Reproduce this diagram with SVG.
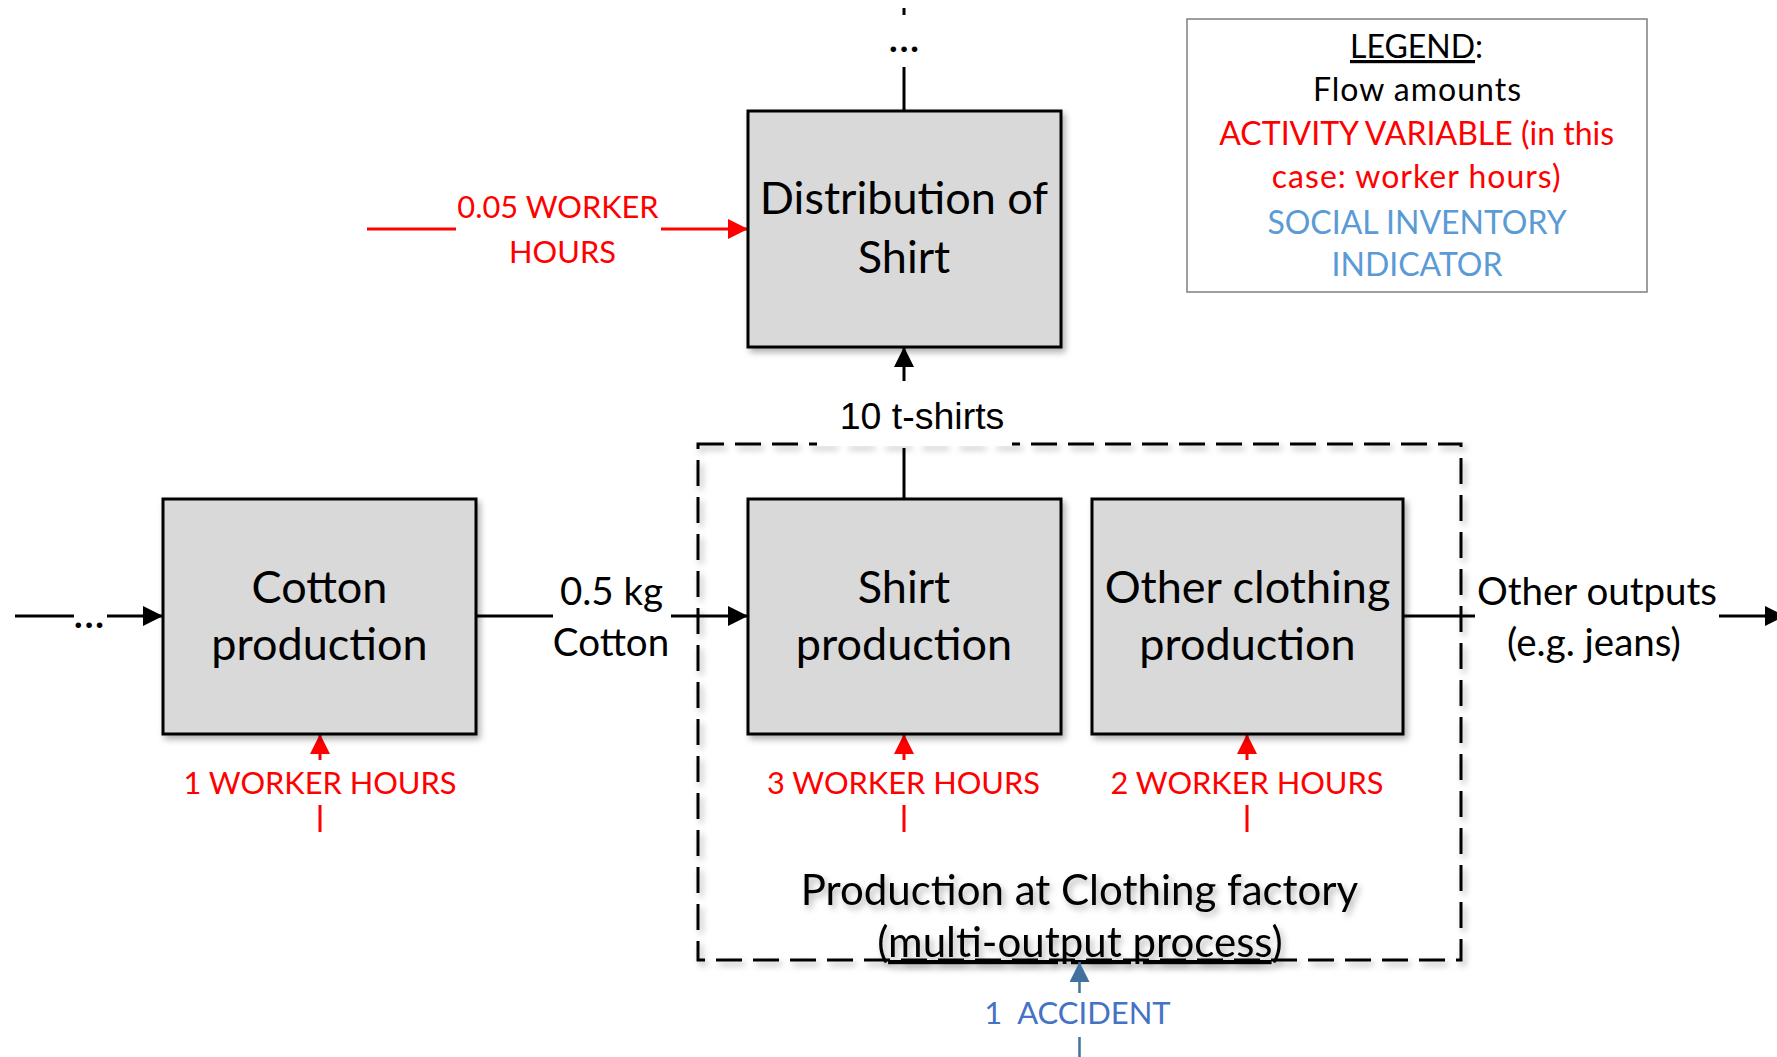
<svg xmlns="http://www.w3.org/2000/svg" width="1777" height="1057" viewBox="0 0 1777 1057">
  <style>
    .box { fill: #D9D9D9; stroke: #000; stroke-width: 3; }
    .lbl { font-family: Lato, "Open Sans", sans-serif; text-anchor: middle; }
    .boxtxt { font-size: 45px; fill: #000; }
    .flow { font-size: 38.5px; fill: #000; }
    .red { fill: #FF0000; font-size: 30.8px; }
    .legend { font-size: 32px; }
    .conn { stroke: #000; stroke-width: 3; fill: none; }
    .rconn { stroke: #FF0000; stroke-width: 3; fill: none; }
    .bconn { stroke: #41719C; stroke-width: 2.5; fill: none; }
  </style>
  <defs>
    <filter id="shadow" x="-10%" y="-10%" width="130%" height="130%">
      <feDropShadow dx="3" dy="4" stdDeviation="3" flood-color="#000" flood-opacity="0.3"/>
    </filter>
    <marker id="arrowBlack" markerUnits="userSpaceOnUse" viewBox="0 0 20 20" refX="20" refY="10" markerWidth="20" markerHeight="20" orient="auto">
      <path d="M0,0 L20,10 L0,20 z" fill="#000"/>
    </marker>
    <marker id="arrowRed" markerUnits="userSpaceOnUse" viewBox="0 0 20 20" refX="20" refY="10" markerWidth="20" markerHeight="20" orient="auto">
      <path d="M0,0 L20,10 L0,20 z" fill="#FF0000"/>
    </marker>
    <marker id="arrowBlue" markerUnits="userSpaceOnUse" viewBox="0 0 20 20" refX="20" refY="10" markerWidth="20" markerHeight="20" orient="auto">
      <path d="M0,0 L20,10 L0,20 z" fill="#41719C"/>
    </marker>
  </defs>

  <rect width="1777" height="1057" fill="#fff"/>

  <!-- multi-output process boundary -->
  <g id="clothing-factory">
    <rect x="698" y="444" width="763" height="516" fill="none" stroke="#000" stroke-width="3" stroke-dasharray="26 11" filter="url(#shadow)"/>
    <!-- label background interrupting the top edge -->
    <rect x="817" y="384" width="195" height="62" fill="#fff"/>
    <text class="lbl" font-size="42" x="1079.5" y="905" filter="url(#shadow)">Production at Clothing factory</text>
    <text class="lbl" font-size="42" x="1080" y="957" filter="url(#shadow)">(<tspan text-decoration="underline">multi-output process</tspan>)</text>
  </g>

  <!-- connectors -->
  <g id="connectors">
    <!-- upstream of cotton -->
    <line class="conn" x1="15" y1="616" x2="74" y2="616"/>
    <line class="conn" x1="107" y1="616" x2="163" y2="616" marker-end="url(#arrowBlack)"/>
    <!-- cotton to shirt -->
    <line class="conn" x1="476" y1="616" x2="553" y2="616"/>
    <line class="conn" x1="671" y1="616" x2="748" y2="616" marker-end="url(#arrowBlack)"/>
    <!-- shirt to distribution -->
    <line class="conn" x1="904" y1="499" x2="904" y2="448"/>
    <line class="conn" x1="904" y1="381" x2="904" y2="347" marker-end="url(#arrowBlack)"/>
    <!-- distribution downstream -->
    <line class="conn" x1="904" y1="111" x2="904" y2="67"/>
    <line class="conn" x1="904" y1="15" x2="904" y2="8"/>
    <!-- other outputs -->
    <line class="conn" x1="1403" y1="616" x2="1475" y2="616"/>
    <line class="conn" x1="1719" y1="616" x2="1785" y2="616" marker-end="url(#arrowBlack)"/>
    <!-- worker hours inputs -->
    <line class="rconn" x1="367" y1="229" x2="456" y2="229"/>
    <line class="rconn" x1="661" y1="229" x2="748" y2="229" marker-end="url(#arrowRed)"/>
    <line class="rconn" x1="320" y1="760" x2="320" y2="734" marker-end="url(#arrowRed)"/>
    <line class="rconn" stroke-width="2.5" x1="320" y1="805" x2="320" y2="832"/>
    <line class="rconn" x1="904" y1="760" x2="904" y2="734" marker-end="url(#arrowRed)"/>
    <line class="rconn" stroke-width="2.5" x1="904" y1="805" x2="904" y2="832"/>
    <line class="rconn" x1="1247" y1="760" x2="1247" y2="734" marker-end="url(#arrowRed)"/>
    <line class="rconn" stroke-width="2.5" x1="1247" y1="805" x2="1247" y2="832"/>
    <!-- accident indicator -->
    <line class="bconn" x1="1079.5" y1="993" x2="1079.5" y2="962" marker-end="url(#arrowBlue)"/>
    <line class="bconn" x1="1079.5" y1="1037" x2="1079.5" y2="1057"/>
  </g>

  <!-- processes -->
  <g id="distribution">
    <rect class="box" x="748" y="111" width="313" height="236" filter="url(#shadow)"/>
    <text class="lbl boxtxt" x="904" y="214">Distribution of</text>
    <text class="lbl boxtxt" x="904" y="273">Shirt</text>
  </g>
  <g id="cotton">
    <rect class="box" x="163" y="499" width="313" height="235" filter="url(#shadow)"/>
    <text class="lbl boxtxt" x="319.5" y="603">Cotton</text>
    <text class="lbl boxtxt" x="319.5" y="660">production</text>
  </g>
  <g id="shirt">
    <rect class="box" x="748" y="499" width="313" height="235" filter="url(#shadow)"/>
    <text class="lbl boxtxt" x="904" y="603">Shirt</text>
    <text class="lbl boxtxt" x="904" y="660">production</text>
  </g>
  <g id="other-clothing">
    <rect class="box" x="1092" y="499" width="311" height="235" filter="url(#shadow)"/>
    <text class="lbl boxtxt" x="1247.5" y="603">Other clothing</text>
    <text class="lbl boxtxt" x="1247.5" y="660">production</text>
  </g>

  <!-- flow labels -->
  <g id="labels">
    <text class="lbl boxtxt" x="89" y="628">...</text>
    <text class="lbl boxtxt" x="904" y="52">...</text>
    <text class="lbl flow" x="611.5" y="605">0.5 kg</text>
    <text class="lbl flow" x="611" y="656">Cotton</text>
    <text x="922" y="429" font-family="'Liberation Sans', Arial, sans-serif" font-size="37.5" text-anchor="middle">10 t-shirts</text>
    <text class="lbl flow" x="1597" y="605">Other outputs</text>
    <text class="lbl flow" x="1594" y="656">(e.g. jeans)</text>
    <text class="lbl red" font-size="30.4" x="558" y="218">0.05 WORKER</text>
    <text class="lbl red" font-size="30.4" x="562.5" y="263">HOURS</text>
    <text class="lbl red" x="320" y="794">1 WORKER HOURS</text>
    <text class="lbl red" x="903.5" y="794">3 WORKER HOURS</text>
    <text class="lbl red" x="1247" y="794">2 WORKER HOURS</text>
    <text class="lbl" font-size="31" fill="#4472C4" x="1077.5" y="1024" xml:space="preserve">1  ACCIDENT</text>
  </g>

  <!-- legend -->
  <g id="legend">
    <rect x="1187" y="19" width="460" height="273" fill="#fff" stroke="#7F7F7F" stroke-width="1.5"/>
    <text class="lbl legend" x="1416.5" y="58"><tspan text-decoration="underline">LEGEND</tspan>:</text>
    <text class="lbl legend" letter-spacing="1" x="1417.5" y="101">Flow amounts</text>
    <text class="lbl legend" fill="#FF0000" x="1416.7" y="145">ACTIVITY VARIABLE (in this</text>
    <text class="lbl legend" fill="#FF0000" letter-spacing="1" x="1416.7" y="188">case: worker hours)</text>
    <text class="lbl legend" fill="#5B9BD5" x="1417" y="234">SOCIAL INVENTORY</text>
    <text class="lbl legend" fill="#5B9BD5" x="1417" y="276">INDICATOR</text>
  </g>
</svg>
